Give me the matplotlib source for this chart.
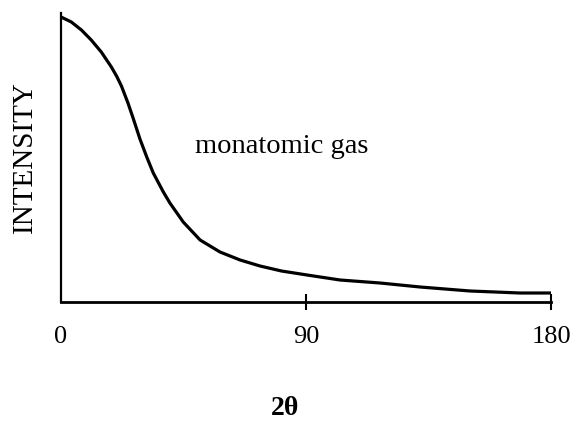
import matplotlib.pyplot as plt

# scattering angle 2theta (degrees) and intensity (arbitrary units)
two_theta = [0, 3.8, 7.5, 11.1, 14.8, 18.5, 20.4, 22.2, 24.6, 26.6, 29.0, 31.5,
             33.9, 37.6, 40.0, 44.9, 51.1, 58.4, 65.8, 73.1, 81.0, 90.4,
             102.5, 117.2, 131.9, 150.3, 168.6, 180]
intensity = [285, 280, 272, 262, 250, 235, 226, 216, 199, 183, 163, 145,
             129, 110, 99, 80, 62, 50, 42, 36, 31, 27,
             22, 19, 15, 11, 9, 9]

xticks = [0, 90, 180]
xtick_labels = ["0", "90", "180"]

plt.rcParams["font.family"] = ["Liberation Serif", "DejaVu Serif"]

fig = plt.figure(figsize=(5.75, 4.23), dpi=100)
ax = fig.add_axes([61 / 575, 1 - 302 / 423, 490 / 575, 289 / 423])

ax.plot(two_theta, intensity, color="black", lw=2.3,
        solid_capstyle="round", solid_joinstyle="round")

ax.set_xlim(0, 180)
ax.set_ylim(0, 289)
ax.spines["top"].set_visible(False)
ax.spines["right"].set_visible(False)
ax.spines["left"].set_linewidth(1.6)
ax.spines["bottom"].set_linewidth(2.0)

ax.set_yticks([])
ax.set_xticks(xticks)
ax.set_xticklabels(xtick_labels, fontsize=19)
ax.tick_params(axis="x", direction="inout", length=11, width=1.5, pad=12)
ax.xaxis.get_major_ticks()[0].tick1line.set_visible(False)

ax.text(49.2, 149, "monatomic gas", fontsize=20.5, ha="left", va="baseline")

fig.text(25 / 575, 1 - 157 / 423, "INTENSITY", fontsize=21, rotation=90,
         ha="center", va="center")
fig.text(285 / 575, 1 - 415 / 423, "2θ", fontsize=20, fontweight="bold",
         ha="center", va="baseline")

fig.savefig("out.png", dpi=100)
